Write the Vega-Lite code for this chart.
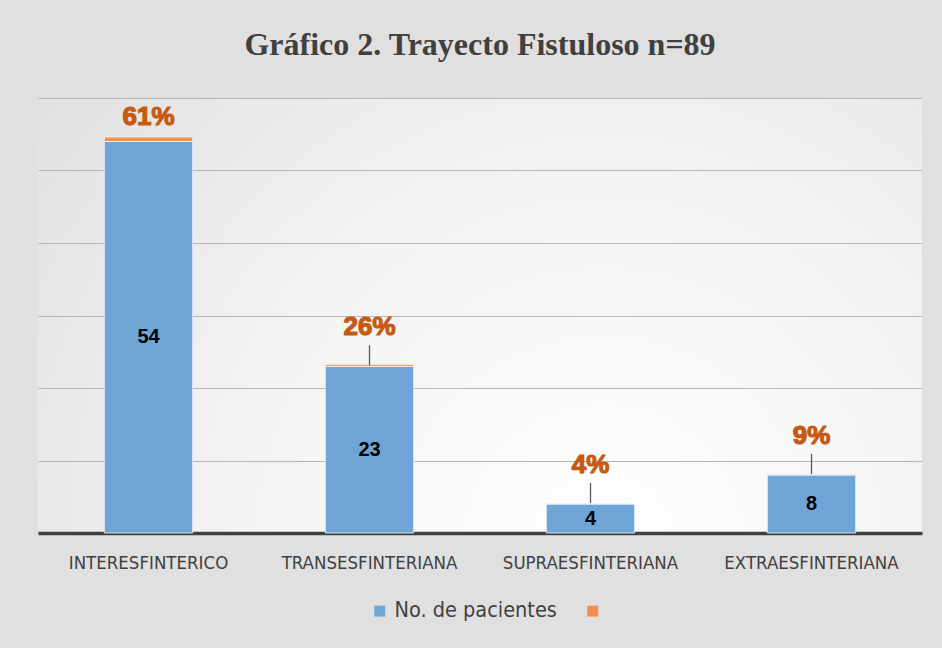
{
  "$schema": "https://vega.github.io/schema/vega-lite/v6.json",
  "width": 884,
  "height": 435,
  "autosize": {"type": "none"},
  "padding": {"left": 38, "top": 98, "right": 20, "bottom": 115},
  "background": "#e0e0e0",
  "config": {
    "view": {
      "stroke": null,
      "fill": {
        "gradient": "radial",
        "x1": 0.64, "y1": 0.76, "r1": 0,
        "x2": 0.64, "y2": 0.76, "r2": 1.0,
        "stops": [
          {"offset": 0, "color": "#ffffff"},
          {"offset": 0.45, "color": "#f2f2f2"},
          {"offset": 1, "color": "#d8d8d8"}
        ]
      }
    },
    "font": "Liberation Sans"
  },
  "title": {
    "text": "Gráfico 2. Trayecto Fistuloso n=89",
    "font": "Liberation Serif",
    "fontSize": 32,
    "fontWeight": "bold",
    "color": "#404040",
    "anchor": "middle",
    "baseline": "alphabetic",
    "offset": 11
  },
  "data": {
    "values": [
      {"categoria": "INTERESFINTERICO", "pacientes": 54, "porcentaje": 0.61},
      {"categoria": "TRANSESFINTERIANA", "pacientes": 23, "porcentaje": 0.26},
      {"categoria": "SUPRAESFINTERIANA", "pacientes": 4, "porcentaje": 0.04},
      {"categoria": "EXTRAESFINTERIANA", "pacientes": 8, "porcentaje": 0.09}
    ]
  },
  "resolve": {"scale": {"y": "independent"}},
  "layer": [
    {
      "transform": [{"fold": ["pacientes", "porcentaje"], "as": ["serie", "valor"]}],
      "mark": {"type": "bar", "stroke": "#f4f8fc", "strokeWidth": 1, "strokeOpacity": 0.8},
      "encoding": {
        "x": {
          "field": "categoria", "type": "nominal", "sort": null,
          "scale": {"paddingInner": 0.6, "paddingOuter": 0.3},
          "axis": {
            "title": null, "domainColor": "#404040", "domainWidth": 3.5, "ticks": false,
            "labelAngle": 0, "labelFont": "DejaVu Sans Condensed, Liberation Sans", "labelFontSize": 18.5,
            "labelColor": "#404040", "labelPadding": 20, "labelLimit": 0
          }
        },
        "y": {
          "field": "valor", "type": "quantitative", "stack": "zero",
          "scale": {"domain": [0, 60]},
          "axis": {
            "title": null, "labels": false, "ticks": false, "domain": false,
            "grid": true, "gridColor": "#b5b5b5", "gridWidth": 1.2,
            "values": [0, 10, 20, 30, 40, 50, 60]
          }
        },
        "color": {
          "field": "serie", "type": "nominal",
          "scale": {"domain": ["pacientes", "porcentaje"], "range": ["#6fa5d6", "#f0904f"]},
          "legend": {
            "title": null, "orient": "none", "legendX": 331, "legendY": 502, "direction": "horizontal",
            "symbolType": "square", "symbolSize": 120, "symbolStrokeWidth": 0,
            "labelFont": "DejaVu Sans Condensed, Liberation Sans", "labelFontSize": 21.5, "labelColor": "#404040",
            "labelLimit": 0,
            "labelExpr": "datum.value == 'pacientes' ? 'No. de pacientes' : ''",
            "columnPadding": 25
          }
        },
        "order": {"field": "serie"}
      }
    },
    {
      "mark": {"type": "text", "font": "Liberation Sans", "fontWeight": "bold", "fontSize": 20, "color": "#000000", "baseline": "middle"},
      "encoding": {
        "x": {"field": "categoria", "type": "nominal", "sort": null},
        "y": {"field": "pacientes", "type": "quantitative", "scale": {"domain": [0, 120]}, "axis": null},
        "text": {"field": "pacientes", "type": "quantitative"}
      }
    },
    {
      "transform": [{"filter": "datum.porcentaje < 0.5"}],
      "mark": {"type": "rule", "color": "#595959", "strokeWidth": 1.3, "yOffset": -1, "y2Offset": -21},
      "encoding": {
        "x": {"field": "categoria", "type": "nominal", "sort": null},
        "y": {"field": "pacientes", "type": "quantitative", "scale": {"domain": [0, 60]}, "axis": null},
        "y2": {"field": "pacientes"}
      }
    },
    {
      "transform": [{"filter": "datum.porcentaje < 0.5"}],
      "mark": {"type": "text", "font": "Liberation Sans", "fontWeight": "bold", "fontSize": 26, "color": "#c55a11", "stroke": "#c55a11", "strokeWidth": 1.2, "baseline": "alphabetic", "dy": -31},
      "encoding": {
        "x": {"field": "categoria", "type": "nominal", "sort": null},
        "y": {"field": "pacientes", "type": "quantitative", "scale": {"domain": [0, 60]}, "axis": null},
        "text": {"field": "porcentaje", "type": "quantitative", "format": ".0%"}
      }
    },
    {
      "transform": [{"filter": "datum.porcentaje >= 0.5"}],
      "mark": {"type": "text", "font": "Liberation Sans", "fontWeight": "bold", "fontSize": 26, "color": "#c55a11", "stroke": "#c55a11", "strokeWidth": 1.2, "baseline": "alphabetic", "dy": -17},
      "encoding": {
        "x": {"field": "categoria", "type": "nominal", "sort": null},
        "y": {"field": "pacientes", "type": "quantitative", "scale": {"domain": [0, 60]}, "axis": null},
        "text": {"field": "porcentaje", "type": "quantitative", "format": ".0%"}
      }
    }
  ]
}
